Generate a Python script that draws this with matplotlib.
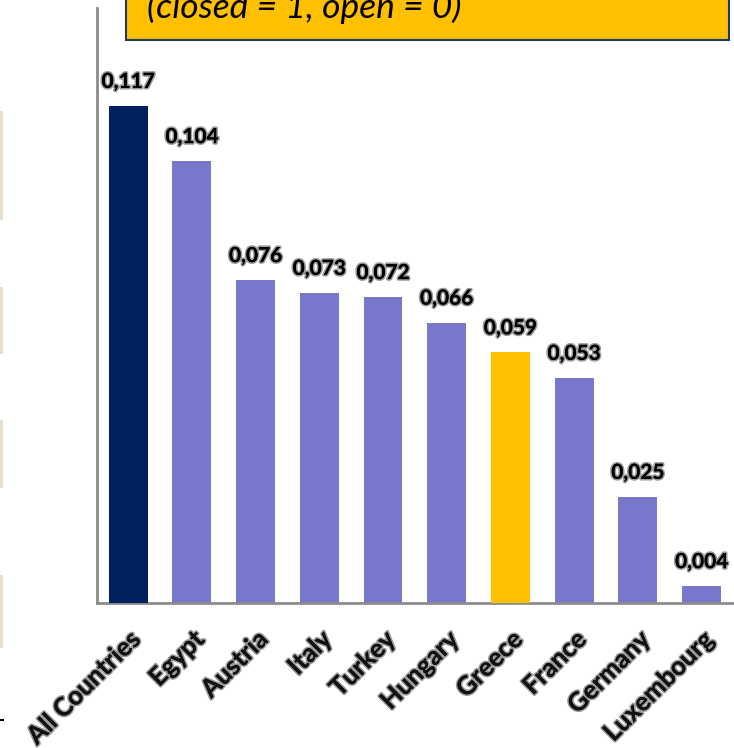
"""
Bar chart: index per country (closed = 1, open = 0), sorted high to low,
with the all-country average in dark blue and Greece highlighted.
"""
import matplotlib.pyplot as plt
import matplotlib.patheffects as pe
from matplotlib.patches import Rectangle

countries = ["All Countries", "Egypt", "Austria", "Italy", "Turkey",
             "Hungary", "Greece", "France", "Germany", "Luxembourg"]
values = [0.117, 0.104, 0.076, 0.073, 0.072, 0.066, 0.059, 0.053, 0.025, 0.004]
labels = ["0,117", "0,104", "0,076", "0,073", "0,072",
          "0,066", "0,059", "0,053", "0,025", "0,004"]

NAVY = "#002060"
LAV = "#7777cc"
GOLD = "#ffc000"
colors = [NAVY] + [LAV] * 5 + [GOLD] + [LAV] * 3

plt.rcParams["font.family"] = ["Lato", "DejaVu Sans"]

W, H = 734, 748
fig = plt.figure(figsize=(W / 100, H / 100), dpi=100)
ax = fig.add_axes([97 / W, 1 - 603 / H, 1 - 97 / W, (603 - 8) / H])

bars = ax.bar(range(len(values)), values, width=0.61, color=colors, zorder=2)
# the first bar and Greece sit over the axis line
for i in (0, 6):
    bars[i].set_zorder(4)
    bars[i].set_y(-0.001)
    bars[i].set_height(values[i] + 0.001)

ax.set_xlim(-0.49, 9.51)
ax.set_ylim(0, 0.14)
ax.set_xticks([])
ax.set_yticks([])
for s in ("top", "right"):
    ax.spines[s].set_visible(False)
for s in ("left", "bottom"):
    ax.spines[s].set_color("#8c8c8c")
    ax.spines[s].set_linewidth(2)
    ax.spines[s].set_zorder(3)

fx = [pe.withStroke(linewidth=2.4, foreground="#9a9a9a"), pe.Normal()]
for i, (v, lab) in enumerate(zip(values, labels)):
    ax.annotate(lab, (i, v), xytext=(0, 10), textcoords="offset points",
                ha="center", va="bottom", fontsize=15, fontweight="bold",
                color="black", path_effects=fx)
    ax.annotate(countries[i], (i, 0), xytext=(6, -23), textcoords="offset points",
                ha="right", va="center", rotation=45, rotation_mode="anchor",
                fontsize=18.5, fontweight="bold", color="#111111", path_effects=fx,
                annotation_clip=False)

# title box, cut off at the top of the slide
fig.patches.append(Rectangle((126 / W, 1 - 40 / H), (729 - 126) / W, 0.2,
                             transform=fig.transFigure, facecolor=GOLD,
                             edgecolor="#1f3864", lw=1.5, zorder=5))
fig.text(147 / W, 1 - 18 / H, "(closed = 1, open = 0)", fontsize=25.5,
         style="italic", color="black", ha="left", va="baseline", zorder=6)

# beige strips of the neighbouring slide element at the left edge
for y0, y1 in [(111, 220), (287, 354), (420, 488), (575, 648)]:
    fig.patches.append(Rectangle((0, 1 - y1 / H), 3 / W, (y1 - y0) / H,
                                 transform=fig.transFigure,
                                 facecolor="#e6dfcb", edgecolor="none"))
fig.patches.append(Rectangle((0, 1 - 721 / H), 4 / W, 2 / H,
                             transform=fig.transFigure,
                             facecolor="black", edgecolor="none"))

fig.savefig("out.png", dpi=100)
